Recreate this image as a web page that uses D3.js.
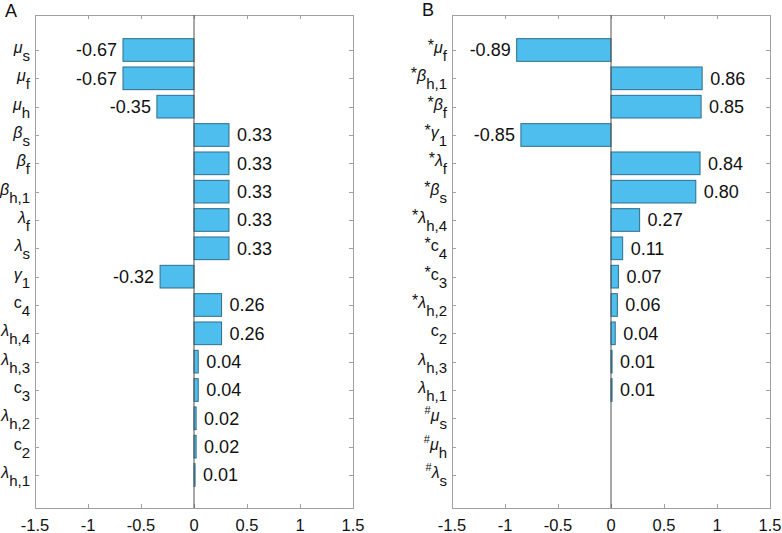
<!DOCTYPE html>
<html>
<head>
<meta charset="utf-8">
<script src="https://cdn.jsdelivr.net/npm/d3@7"></script>
<style>
  body { margin: 0; background: #fff; }
  svg { display: block; font-family: "Liberation Sans", Arial, Helvetica, sans-serif; }
</style>
</head>
<body>
<svg id="chart" width="782" height="533"></svg>
<script>
// ---- Data ----
const panelTitles = ["A", "B"];

const labelsA = ["μ_s", "μ_f", "μ_h", "β_s", "β_f", "β_h,1", "λ_f", "λ_s", "γ_1", "c_4", "λ_h,4", "λ_h,3", "c_3", "λ_h,2", "c_2", "λ_h,1"];
const valuesA = [-0.67, -0.67, -0.35, 0.33, 0.33, 0.33, 0.33, 0.33, -0.32, 0.26, 0.26, 0.04, 0.04, 0.02, 0.02, 0.01];

const labelsB = ["*μ_f", "*β_h,1", "*β_f", "*γ_1", "*λ_f", "*β_s", "*λ_h,4", "*c_4", "*c_3", "*λ_h,2", "c_2", "λ_h,3", "λ_h,1", "#μ_s", "#μ_h", "#λ_s"];
const valuesB = [-0.89, 0.86, 0.85, -0.85, 0.84, 0.80, 0.27, 0.11, 0.07, 0.06, 0.04, 0.01, 0.01, 0, 0, 0];

const xTicks = [-1.5, -1, -0.5, 0, 0.5, 1, 1.5];
const xTickLabels = ["-1.5", "-1", "-0.5", "0", "0.5", "1", "1.5"];

// ---- Layout ----
const svg = d3.select("#chart");
const panels = [
  { title: panelTitles[0], labels: labelsA, values: valuesA, left: 35, right: 353, titleX: 5, titleY: 17 },
  { title: panelTitles[1], labels: labelsB, values: valuesB, left: 452, right: 770, titleX: 422, titleY: 16 }
];
const plotTop = 15, plotBottom = 508;
const axisColor = "#a0a0a0";
const fmt = v => (v < 0 ? "-" : "") + Math.abs(v).toFixed(2);
const greek = /[μβλγ]/;

function parseLabel(s) {
  let pre = "";
  if (s[0] === "*" || s[0] === "#") { pre = s[0]; s = s.slice(1); }
  const parts = s.split("_");
  return { pre, main: parts[0], sub: parts[1] || "" };
}

panels.forEach(p => {
  const g = svg.append("g");
  const x = d3.scaleLinear().domain([-1.5, 1.5]).range([p.left, p.right]);
  const y = d3.scaleLinear().domain([-1.235, 16.165]).range([plotTop, plotBottom]);
  const bw = y(0.4) - y(-0.4);

  g.append("rect").attr("x", p.left + 0.5).attr("y", plotTop + 0.5)
    .attr("width", p.right - p.left).attr("height", plotBottom - plotTop)
    .attr("fill", "none").attr("stroke", axisColor).attr("stroke-width", 1);

  xTicks.forEach((t, i) => {
    const xx = Math.round(x(t)) + 0.5;
    g.append("line").attr("x1", xx).attr("x2", xx).attr("y1", plotBottom).attr("y2", plotBottom - 4)
      .attr("stroke", axisColor);
    g.append("line").attr("x1", xx).attr("x2", xx).attr("y1", plotTop).attr("y2", plotTop + 4)
      .attr("stroke", axisColor);
    g.append("text").attr("x", x(t)).attr("y", 531)
      .attr("text-anchor", "middle").attr("font-size", 16.5).attr("fill", "#111")
      .text(xTickLabels[i]);
  });

  p.labels.forEach((lab, i) => {
    const yy = Math.round(y(i)) + 0.5;
    g.append("line").attr("x1", p.left).attr("x2", p.left + 4).attr("y1", yy).attr("y2", yy).attr("stroke", axisColor);
    g.append("line").attr("x1", p.right).attr("x2", p.right - 4).attr("y1", yy).attr("y2", yy).attr("stroke", axisColor);
    const L = parseLabel(lab);
    const t = g.append("text").attr("x", p.left - 5).attr("y", y(i) + 3)
      .attr("text-anchor", "end").attr("fill", "#111").attr("font-size", 16);
    if (L.pre === "*") {
      t.append("tspan").attr("font-size", 16).attr("dy", -2).text(L.pre);
      t.append("tspan").attr("dy", 2).attr("font-size", 16)
        .attr("font-style", greek.test(L.main) ? "italic" : "normal").text(L.main);
    } else if (L.pre === "#") {
      t.append("tspan").attr("font-size", 11).attr("dy", -7).text(L.pre);
      t.append("tspan").attr("dy", 7).attr("font-size", 16)
        .attr("font-style", greek.test(L.main) ? "italic" : "normal").text(L.main);
    } else {
      t.append("tspan").attr("font-size", 16)
        .attr("font-style", greek.test(L.main) ? "italic" : "normal").text(L.main);
    }
    if (L.sub) t.append("tspan").attr("dy", 8).attr("font-size", 15).text(L.sub);
  });

  g.selectAll("rect.bar").data(p.values.map((v, i) => ({ v, i })).filter(d => d.v !== 0))
    .enter().append("rect").attr("class", "bar")
    .attr("x", d => Math.min(x(0), x(d.v)))
    .attr("y", d => y(d.i) - bw / 2)
    .attr("width", d => Math.abs(x(d.v) - x(0)))
    .attr("height", bw)
    .attr("fill", "#4DBEEE").attr("stroke", "#2F6E8C").attr("stroke-width", 1);

  g.append("line").attr("x1", x(0)).attr("x2", x(0)).attr("y1", plotTop).attr("y2", plotBottom)
    .attr("stroke", "#505050").attr("stroke-width", 1);

  g.selectAll("text.val").data(p.values.map((v, i) => ({ v, i })).filter(d => d.v !== 0))
    .enter().append("text").attr("class", "val")
    .attr("x", d => d.v < 0 ? x(d.v) - 6 : x(d.v) + 8)
    .attr("y", d => y(d.i))
    .attr("dy", "0.36em")
    .attr("text-anchor", d => d.v < 0 ? "end" : "start")
    .attr("font-size", 18).attr("fill", "#111")
    .text(d => fmt(d.v));

  svg.append("text").attr("x", p.titleX).attr("y", p.titleY)
    .attr("font-size", 18).attr("fill", "#111").text(p.title);
});
</script>
</body>
</html>
